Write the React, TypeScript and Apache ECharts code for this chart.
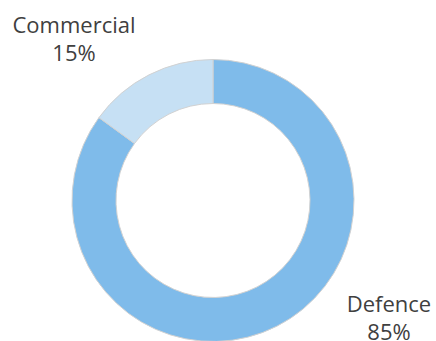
import React, { useEffect, useRef } from "react";
import * as echarts from "echarts";

const categories = ["Defence", "Commercial"];
const shares = [85, 15];
const colors = ["#7fbbea", "#c6e0f4"];

const CX = 213;
const CY = 200.5;
const labelOffsets = [
  [176, 116],
  [-139, -162.5],
];

export default function App() {
  const ref = useRef<HTMLDivElement>(null);
  useEffect(() => {
    if (!ref.current) return;
    const chart = echarts.init(ref.current, null, { renderer: "svg" });
    chart.setOption({
      animation: false,
      backgroundColor: "#ffffff",
      series: [
        {
          type: "pie",
          center: [CX, CY],
          radius: [97, 141],
          startAngle: 90,
          clockwise: true,
          avoidLabelOverlap: false,
          data: categories.map((c, i) => ({
            name: c,
            value: shares[i],
            itemStyle: { color: colors[i] },
          })),
          itemStyle: { borderColor: "#d2d2d2", borderWidth: 1 },
          label: {
            show: true,
            position: "outside",
            formatter: "{b}\n{c}%",
            fontFamily: "Open Sans",
            fontSize: 22,
            lineHeight: 28,
            color: "#404040",
          },
          labelLine: { show: false },
          labelLayout: (p: any) => ({
            x: CX + labelOffsets[p.dataIndex][0],
            y: CY + labelOffsets[p.dataIndex][1],
            align: "center",
            verticalAlign: "middle",
          }),
          emphasis: { disabled: true },
        },
      ],
    });
    return () => chart.dispose();
  }, []);
  return (
    <div
      ref={ref}
      style={{ position: "fixed", left: 0, top: 0, width: 436, height: 341 }}
    />
  );
}
